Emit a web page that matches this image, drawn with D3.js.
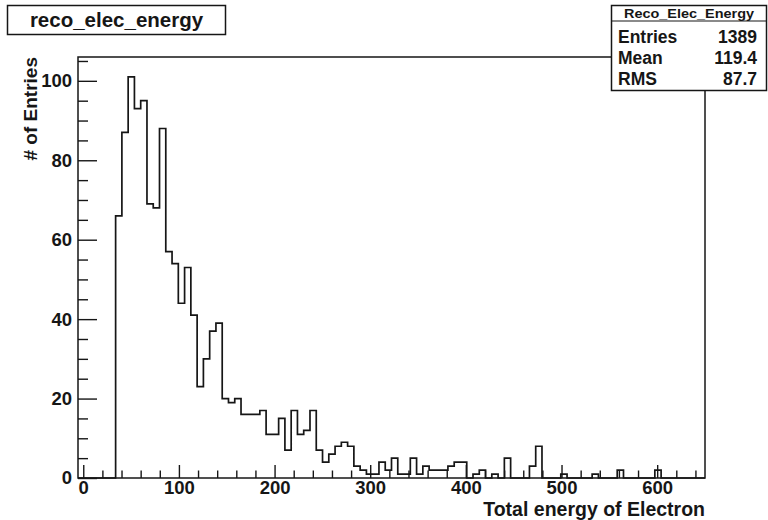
<!DOCTYPE html>
<html>
<head>
<meta charset="utf-8">
<script src="https://cdn.jsdelivr.net/npm/d3@7"></script>
<style>
  html, body { margin: 0; padding: 0; background: #fff; }
  svg { display: block; font-family: "Liberation Sans", Arial, sans-serif; font-weight: bold; }
</style>
</head>
<body>
<div id="chart"></div>
<script>
// reco_elec_energy histogram (ROOT style)
const histTitle = 'reco_elec_energy';
const xTitle = 'Total energy of Electron';
const yTitle = '# of Entries';

// histogram binning, 100 bins
const xLow = -5.5;
const xHigh = 650;
const binCounts = [
  0, 0, 0, 0, 0, 0, 66, 87, 101, 93,
  95, 69, 68, 88, 57, 54, 44, 53, 41, 23,
  30, 37, 39, 20, 19, 20, 16, 16, 16, 17,
  11, 11, 15, 7, 17, 11, 12, 17, 7, 4,
  6, 8, 9, 8, 3, 2, 1, 1, 4, 2,
  5, 1, 1, 5, 1, 3, 2, 2, 2, 3,
  4, 4, 0, 1, 2, 0, 1, 0, 5, 0,
  0, 0, 3, 8, 0, 0, 0, 1, 0, 0,
  0, 0, 1, 0, 0, 0, 2, 0, 0, 0,
  0, 0, 2, 0, 0, 0, 0, 0, 0, 0
];

const xMajorTicks = [0, 100, 200, 300, 400, 500, 600];
const yMajorTicks = [0, 20, 40, 60, 80, 100];
const yMax = 106;

// stats box
const statsName = 'Reco_Elec_Energy';
const statsLabels = ['Entries', 'Mean', 'RMS'];
const statsValues = ['1389', '119.4', '87.7'];

const W = 768, H = 520;
const frame = { left: 78, right: 705, top: 57, bottom: 478 };

const svg = d3.select('#chart').append('svg')
  .attr('width', W)
  .attr('height', H);

svg.append('rect').attr('width', W).attr('height', H).attr('fill', '#fff');

const x = d3.scaleLinear().domain([xLow, xHigh]).range([frame.left, frame.right]);
const y = d3.scaleLinear().domain([0, yMax]).range([frame.bottom, frame.top]);

const ink = '#161616';

// histogram outline
const nBins = binCounts.length;
const binW = (xHigh - xLow) / nBins;
const pts = [[xLow, 0]];
binCounts.forEach((c, i) => {
  pts.push([xLow + i * binW, c]);
  pts.push([xLow + (i + 1) * binW, c]);
});
pts.push([xHigh, 0]);

svg.append('path')
  .attr('d', d3.line().x(d => x(d[0])).y(d => y(d[1]))(pts))
  .attr('fill', 'none')
  .attr('stroke', ink)
  .attr('stroke-width', 1.7);

// axes - ticks drawn inwards like ROOT
const xMinor = d3.range(20, 650, 20).filter(v => v % 100 !== 0);
const yMinor = d3.range(5, yMax, 5).filter(v => v % 20 !== 0);

const gx = svg.append('g').attr('transform', `translate(0,${frame.bottom})`);
gx.call(d3.axisBottom(x).tickValues(xMajorTicks).tickSizeInner(-13).tickSizeOuter(0).tickPadding(3));
gx.append('g').call(d3.axisBottom(x).tickValues(xMinor).tickSizeInner(-7.5).tickSizeOuter(0).tickFormat(''));

const gy = svg.append('g').attr('transform', `translate(${frame.left},0)`);
gy.call(d3.axisLeft(y).tickValues(yMajorTicks).tickSizeInner(-19).tickSizeOuter(0).tickPadding(6));
gy.append('g').call(d3.axisLeft(y).tickValues(yMinor).tickSizeInner(-10).tickSizeOuter(0).tickFormat(''));

svg.selectAll('.domain').remove();
svg.selectAll('.tick line').attr('stroke', ink).attr('stroke-width', 1.4);
svg.selectAll('.tick text')
  .attr('fill', ink)
  .style('font-size', '18.5px')
  .style('font-weight', 'bold')
  .style('font-family', '"Liberation Sans", Arial, sans-serif');

// frame
svg.append('rect')
  .attr('x', frame.left)
  .attr('y', frame.top)
  .attr('width', frame.right - frame.left)
  .attr('height', frame.bottom - frame.top)
  .attr('fill', 'none')
  .attr('stroke', ink)
  .attr('stroke-width', 1.5);

// axis titles
svg.append('text')
  .attr('x', frame.right)
  .attr('y', 516)
  .attr('text-anchor', 'end')
  .attr('fill', ink)
  .style('font-size', '19.5px')
  .text(xTitle);

svg.append('text')
  .attr('transform', `translate(37,${frame.top}) rotate(-90)`)
  .attr('text-anchor', 'end')
  .attr('fill', ink)
  .style('font-size', '19px')
  .text(yTitle);

// title box
svg.append('rect')
  .attr('x', 7.5).attr('y', 5.5)
  .attr('width', 218).attr('height', 29)
  .attr('fill', '#fff')
  .attr('stroke', ink)
  .attr('stroke-width', 1.5);

svg.append('text')
  .attr('x', 116.5)
  .attr('y', 27)
  .attr('text-anchor', 'middle')
  .attr('fill', ink)
  .style('font-size', '20.5px')
  .text(histTitle);

// stats box
const sb = { x: 611.5, y: 5.5, w: 155, h: 85, head: 15.5 };
const stats = svg.append('g');
stats.append('rect')
  .attr('x', sb.x).attr('y', sb.y)
  .attr('width', sb.w).attr('height', sb.h)
  .attr('fill', '#fff')
  .attr('stroke', ink)
  .attr('stroke-width', 1.5);
stats.append('line')
  .attr('x1', sb.x).attr('x2', sb.x + sb.w)
  .attr('y1', sb.y + sb.head).attr('y2', sb.y + sb.head)
  .attr('stroke', ink)
  .attr('stroke-width', 1.2);
stats.append('text')
  .attr('x', sb.x + sb.w / 2)
  .attr('y', sb.y + 12)
  .attr('text-anchor', 'middle')
  .attr('fill', ink)
  .attr('textLength', 130)
  .attr('lengthAdjust', 'spacingAndGlyphs')
  .style('font-size', '12px')
  .text(statsName);

statsLabels.forEach((lab, i) => {
  const by = 43 + i * 21;
  stats.append('text')
    .attr('x', 618)
    .attr('y', by)
    .attr('fill', ink)
    .style('font-size', '17.5px')
    .text(lab);
  stats.append('text')
    .attr('x', 757)
    .attr('y', by)
    .attr('text-anchor', 'end')
    .attr('fill', ink)
    .style('font-size', '17.5px')
    .text(statsValues[i]);
});
</script>
</body>
</html>
